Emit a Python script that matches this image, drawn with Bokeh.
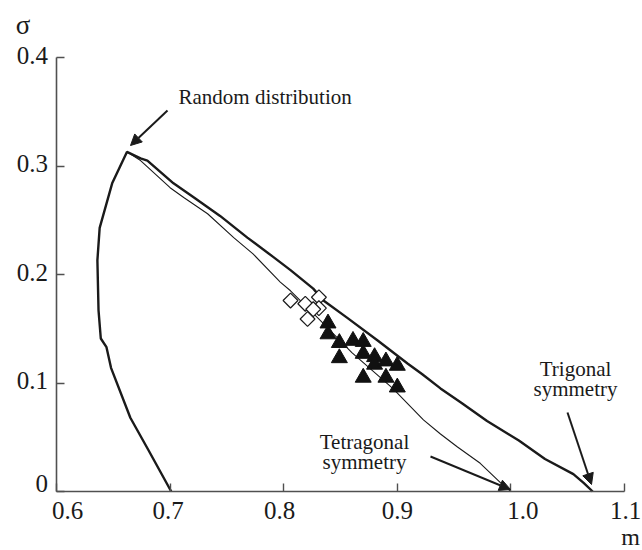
import math
from bokeh.plotting import figure
from bokeh.models import FixedTicker, Label, Arrow, NormalHead, Range1d
from bokeh.embed import file_html
from bokeh.resources import INLINE

# ---------------- data ----------------
# outer thick boundary: left branch (bottom -> peak) then trigonal branch (peak -> bottom)
outer_m = [0.701, 0.681, 0.665, 0.648, 0.644, 0.639, 0.637, 0.636, 0.638, 0.649, 0.662,
           0.674, 0.680, 0.703, 0.721, 0.744, 0.768, 0.791, 0.806, 0.826, 0.835, 0.856,
           0.883, 0.909, 0.922, 0.938, 0.956, 0.979, 1.007, 1.030, 1.055, 1.064, 1.072]
outer_s = [0.000, 0.038, 0.068, 0.114, 0.133, 0.141, 0.167, 0.213, 0.243, 0.284, 0.313,
           0.307, 0.305, 0.284, 0.271, 0.254, 0.234, 0.216, 0.204, 0.187, 0.176, 0.160,
           0.139, 0.118, 0.108, 0.095, 0.082, 0.065, 0.047, 0.030, 0.016, 0.008, 0.000]

# thin curve: peak -> tetragonal symmetry
tetra_m = [0.662, 0.674, 0.700, 0.712, 0.733, 0.756, 0.773, 0.797, 0.806, 0.830, 0.860,
           0.896, 0.923, 0.938, 0.953, 0.973, 0.991, 1.000]
tetra_s = [0.313, 0.305, 0.280, 0.271, 0.256, 0.234, 0.219, 0.193, 0.185, 0.160, 0.128,
           0.095, 0.066, 0.053, 0.041, 0.026, 0.008, 0.000]

# open diamonds
diam_m = [0.806, 0.819, 0.831, 0.831, 0.821, 0.826]
diam_s = [0.176, 0.173, 0.179, 0.169, 0.159, 0.168]

# filled triangles
tri_m = [0.839, 0.839, 0.849, 0.861, 0.870, 0.849, 0.870, 0.880, 0.880, 0.890, 0.900,
         0.870, 0.890, 0.900]
tri_s = [0.155, 0.145, 0.137, 0.139, 0.138, 0.123, 0.127, 0.124, 0.117, 0.120, 0.116,
         0.105, 0.105, 0.096]

x_ticks = [0.6, 0.7, 0.8, 0.9, 1.0, 1.1]
x_tick_labels = ["0.6", "0.7", "0.8", "0.9", "1.0", "1.1"]
y_ticks = [0.0, 0.1, 0.2, 0.3, 0.4]
y_tick_labels = ["0", "0.1", "0.2", "0.3", "0.4"]

# ---------------- layout / style ----------------
W, H = 642, 550
X0_PX, Y0_PX = 56, 491          # pixel position of (0.6, 0)
PX_PER_M, PX_PER_S = 1136, 1085  # pixels per data unit
x_label_shift_px = [11, -2, -4, 0, 12, 1]   # horizontal nudges of x tick labels
x_label_base_px = 25                        # baseline of x tick labels below the axis
y_label_base_px = [-2, 4, 4, 4, 4]          # baseline of y tick labels below the tick

SERIF = "Liberation Serif"
INK = "#1a1a1a"
AXC = "#505050"


def X(px):
    return 0.6 + (px - X0_PX) / PX_PER_M


def Y(py):
    return (Y0_PX - py) / PX_PER_S


def base(py, fs):
    # alphabetic-baseline correction of the SVG text renderer
    return Y(py - 0.25 * fs)


def label(x, y, text, fs, align="center"):
    p.add_layout(Label(x=x, y=y, text=text, text_font=SERIF, text_font_size=f"{fs}px",
                       text_align=align, text_baseline="alphabetic", text_color=INK))


p = figure(width=W, height=H, x_range=Range1d(X(0), X(W)), y_range=Range1d(Y(H), Y(0)),
           output_backend="svg", toolbar_location=None,
           min_border_left=0, min_border_right=0, min_border_top=0, min_border_bottom=0)
p.outline_line_color = None
p.grid.grid_line_color = None
p.background_fill_color = "white"
p.border_fill_color = "white"

for ax, ticks, loc, bnds in ((p.xaxis[0], x_ticks, 0.0, (0.6, 1.1)),
                             (p.yaxis[0], y_ticks, 0.6, (0.0, 0.4))):
    ax.ticker = FixedTicker(ticks=ticks)
    ax.fixed_location = loc
    ax.bounds = bnds
    ax.major_tick_in = 8
    ax.major_tick_out = 0
    ax.minor_tick_line_color = None
    ax.axis_line_color = AXC
    ax.axis_line_width = 1.6
    ax.major_tick_line_color = AXC
    ax.major_tick_line_width = 1.4
    ax.major_label_text_font_size = "0px"
    ax.major_label_text_color = None
    ax.major_label_standoff = 0

# tick labels, placed on the plot's own scales
for t, s, txt in zip(x_ticks, x_label_shift_px, x_tick_labels):
    label(t + s / PX_PER_M, base(Y0_PX + x_label_base_px, 25), txt, 25)
for t, b, txt in zip(y_ticks, y_label_base_px, y_tick_labels):
    label(X(47.5), t - (b - 0.25 * 25) / PX_PER_S, txt, 25, "right")

# axis names
label(X(22.5), base(31, 27), "σ", 27)
label(X(630), base(542, 24), "m", 24)

# curves
p.line(outer_m, outer_s, line_color=INK, line_width=2.4)
p.line(tetra_m, tetra_s, line_color=INK, line_width=1.1)

# markers
p.scatter(diam_m, diam_s, marker="square", angle=math.pi / 4, size=10.5,
          fill_color="white", line_color=INK, line_width=1.2)
p.scatter(tri_m, tri_s, marker="triangle", size=16,
          fill_color="#111111", line_color="#111111", line_width=1)

# annotations: (x px, baseline px, text, align)
texts = [
    (178, 102, "Random distribution", "left"),
    (575, 374, "Trigonal", "center"),
    (575, 394, "symmetry", "center"),
    (364, 447, "Tetragonal", "center"),
    (364, 467, "symmetry", "center"),
]
for x, y, t, al in texts:
    label(X(x), base(y, 21), t, 21, al)

# arrows: (start px, end px)
arrows = [
    ((167, 110), (130, 145)),
    ((430, 456), (510, 489)),
    ((567, 412), (591, 484)),
]
for (xs, ys), (xe, ye) in arrows:
    p.add_layout(Arrow(x_start=X(xs), y_start=Y(ys), x_end=X(xe), y_end=Y(ye), line_width=2,
                       line_color=INK,
                       end=NormalHead(size=11, fill_color=INK, line_color=INK)))

open("out.html", "w").write(file_html(p, INLINE))
